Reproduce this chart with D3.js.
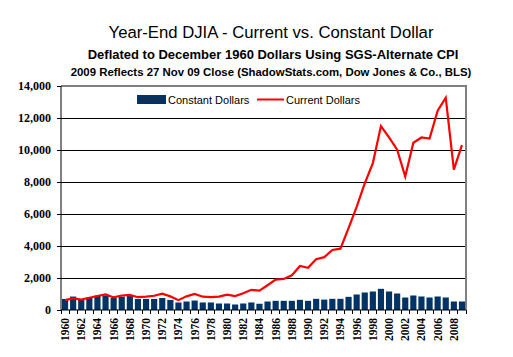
<!DOCTYPE html>
<html><head><meta charset="utf-8">
<script src="https://cdn.jsdelivr.net/npm/d3@7"></script>
<style>
html,body{margin:0;padding:0;background:#fff;}
svg{display:block;}
</style></head>
<body>
<svg id="chart" width="513" height="357"></svg>
<script>
const years = d3.range(1960, 2010);
const currentDollars = [616,731,652,763,874,969,786,905,944,800,839,890,1020,851,616,852,1005,831,805,839,964,875,1047,1259,1212,1547,1896,1939,2169,2753,2634,3169,3301,3754,3834,5117,6448,7908,9181,11497,10787,10022,8342,10454,10783,10718,12463,13265,8776,10310];
const constantDollars = [690,840,650,800,900,900,750,840,870,690,690,690,750,630,470,530,590,470,470,406,406,344,406,470,390,530,573,573,573,635,573,698,650,698,698,823,969,1094,1156,1323,1156,1031,781,906,844,781,844,781,531,531];
const yTicks = [0,2000,4000,6000,8000,10000,12000,14000];
const titleText = "Year-End DJIA - Current vs. Constant Dollar";
const subtitleText = "Deflated to December 1960 Dollars Using SGS-Alternate CPI";
const noteText = "2009 Reflects 27 Nov 09 Close (ShadowStats.com, Dow Jones & Co., BLS)";
const seriesNames = ["Constant Dollars","Current Dollars"];

const svg = d3.select("#chart");
const L = 61, R = 466, T = 86, B = 310;

const x = d3.scaleBand().domain(years).range([L, R]).paddingInner(0.24).paddingOuter(0.12);
const y = d3.scaleLinear().domain([0, 14000]).range([B, T]);

// titles
svg.append("text").attr("x", 271).attr("y", 38).attr("text-anchor","middle")
  .style("font-family","'Liberation Sans', Arial, sans-serif").style("font-size","16.7px").text(titleText);
svg.append("text").attr("x", 273).attr("y", 59).attr("text-anchor","middle")
  .style("font-family","'Liberation Sans', Arial, sans-serif").style("font-size","13px").style("font-weight","bold").text(subtitleText);
svg.append("text").attr("x", 271).attr("y", 76).attr("text-anchor","middle")
  .style("font-family","'Liberation Sans', Arial, sans-serif").style("font-size","11.4px").style("font-weight","bold").text(noteText);

// gridlines
svg.append("g").selectAll("line").data(yTicks.filter(d => d > 0 && d < 14000)).join("line")
  .attr("x1", L).attr("x2", R).attr("y1", d => y(d)).attr("y2", d => y(d))
  .attr("stroke", "#000").attr("stroke-width", 1).attr("shape-rendering","crispEdges");

// plot border top/right
svg.append("path").attr("d", `M${L},${T}H${R}V${B}`).attr("fill","none").attr("stroke","#808080")
  .attr("stroke-width",1.5).attr("shape-rendering","crispEdges");

// bars
svg.append("g").selectAll("rect").data(years).join("rect")
  .attr("x", d => x(d)).attr("width", x.bandwidth())
  .attr("y", (d,i) => y(constantDollars[i])).attr("height", (d,i) => B - y(constantDollars[i]))
  .attr("fill", "#003366");

// line
const line = d3.line().x((d,i) => x(years[i]) + x.bandwidth()/2).y(d => y(d));
svg.append("path").datum(currentDollars).attr("d", line).attr("fill","none")
  .attr("stroke","#ff0000").attr("stroke-width",2.2).attr("stroke-linejoin","miter");

// y axis
const yAxis = svg.append("g").attr("transform", `translate(${L},0)`)
  .call(d3.axisLeft(y).tickValues(yTicks).tickSize(4).tickPadding(6).tickFormat(d3.format(",")));
yAxis.select(".domain").attr("stroke","#000").attr("d", `M0,${T}V${B}`);
yAxis.selectAll(".tick line").attr("stroke","#000");
yAxis.selectAll("text").style("font-family","'Liberation Serif', 'Times New Roman', serif")
  .style("font-size","12px").style("font-weight","bold").attr("fill","#000");

// x axis
const xAxis = svg.append("g").attr("transform", `translate(0,${B})`)
  .call(d3.axisBottom(x).tickSize(0).tickFormat(d => d % 2 === 0 ? d : ""));
xAxis.select(".domain").attr("stroke","#000").attr("d", `M${L},0H${R}`);
xAxis.selectAll("text").attr("transform","rotate(-90)").attr("text-anchor","end")
  .attr("x", -8).attr("y", 0).attr("dy","0.35em")
  .style("font-family","'Liberation Serif', 'Times New Roman', serif")
  .style("font-size","11.5px").style("font-weight","bold").attr("fill","#000");
// boundary ticks
const bounds = d3.range(years.length + 1).map(i => L + i * (R - L) / years.length);
svg.append("g").selectAll("line").data(bounds).join("line")
  .attr("x1", d => d).attr("x2", d => d).attr("y1", B).attr("y2", B + 4)
  .attr("stroke","#000").attr("shape-rendering","crispEdges");

// legend
const lg = svg.append("g");
lg.append("rect").attr("x",137).attr("y",95).attr("width",29).attr("height",9).attr("fill","#003366");
lg.append("line").attr("x1",139).attr("x2",164).attr("y1",99.5).attr("y2",99.5).attr("stroke","#1f2f45").attr("stroke-width",2);
lg.append("text").attr("x",168).attr("y",103.5).style("font-family","'Liberation Sans', Arial, sans-serif")
  .style("font-size","11px").text(seriesNames[0]);
lg.append("line").attr("x1",257).attr("x2",284).attr("y1",99.5).attr("y2",99.5).attr("stroke","#ff0000").attr("stroke-width",2);
lg.append("text").attr("x",286).attr("y",103.5).style("font-family","'Liberation Sans', Arial, sans-serif")
  .style("font-size","11px").text(seriesNames[1]);
</script>
</body></html>
